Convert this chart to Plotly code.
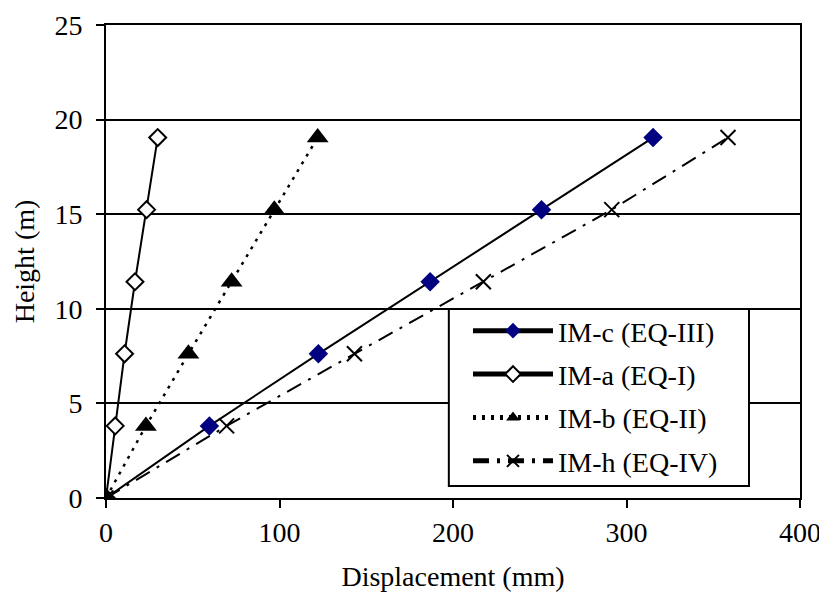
import plotly.graph_objects as go

heights = [0, 3.81, 7.62, 11.43, 15.24, 19.05]
im_c = [0, 59.6, 122.4, 186.8, 251.0, 315.3]
im_a = [0, 5.3, 10.7, 16.7, 23.4, 29.8]
im_b = [0, 23.0, 47.5, 72.4, 97.0, 122.0]
im_h = [0, 69.5, 143.2, 217.5, 291.5, 358.5]

names = ["IM-c (EQ-III)", "IM-a (EQ-I)", "IM-b (EQ-II)", "IM-h (EQ-IV)"]
x_ticks = [0, 100, 200, 300, 400]
y_ticks = [0, 5, 10, 15, 20, 25]

FONT = "Liberation Serif, Times New Roman, serif"

fig = go.Figure()
fig.add_trace(go.Scatter(
    x=im_c, y=heights, name=names[0], mode="lines+markers", legendgroup="c",
    line=dict(color="black", width=2),
    marker=dict(symbol="diamond", size=15, color="#000080", line=dict(width=0))))
fig.add_trace(go.Scatter(
    x=im_a, y=heights, name=names[1], mode="lines+markers", legendgroup="a",
    line=dict(color="black", width=2),
    marker=dict(symbol="diamond", size=13, color="white", line=dict(color="black", width=2))))
fig.add_trace(go.Scatter(
    x=im_b, y=heights, name=names[2], mode="lines+markers", legendgroup="b",
    line=dict(color="black", width=2.5, dash="3px,6px"),
    marker=dict(symbol="triangle-up", size=19, color="black")))
fig.add_trace(go.Scatter(
    x=im_h, y=heights, name=names[3], mode="lines+markers", legendgroup="h",
    line=dict(color="black", width=2, dash="16px,8px,3px,8px"),
    marker=dict(symbol="x-thin", size=15, color="black", line=dict(color="black", width=2))))

# legend frame (white box with black border over the plot)
fig.add_shape(type="rect", xref="x domain", yref="y domain",
              x0=0.494, x1=0.9265, y0=0.0254, y1=0.3996,
              fillcolor="white", line=dict(color="black", width=2), layer="above")

fig.update_layout(
    width=827, height=610,
    paper_bgcolor="white", plot_bgcolor="white",
    margin=dict(l=98, r=35, t=17, b=120),
    font=dict(family=FONT, size=28, color="black"),
    showlegend=True,
    legend=dict(
        x=0.5216, y=0.406, xanchor="left", yanchor="top",
        bgcolor="rgba(0,0,0,0)", borderwidth=0,
        font=dict(family=FONT, size=28, color="black"),
        tracegroupgap=4, itemsizing="constant", itemwidth=80,
    ),
    xaxis=dict(
        range=[0, 400], tickvals=x_ticks, ticktext=[str(v) for v in x_ticks],
        showgrid=False, zeroline=False, automargin=False, ticklabeloverflow="allow",
        showline=True, linecolor="black", linewidth=2, mirror=True,
        ticks="outside", ticklen=8, tickwidth=2, tickcolor="black",
        tickfont=dict(family=FONT, size=28),
        title=dict(text="Displacement (mm)", font=dict(family=FONT, size=28), standoff=20),
    ),
    yaxis=dict(
        range=[0, 25], tickvals=y_ticks, ticktext=[str(v) for v in y_ticks],
        showgrid=True, gridcolor="black", gridwidth=2, zeroline=False, automargin=False,
        ticklabeloverflow="allow",
        showline=True, linecolor="black", linewidth=2, mirror=True,
        ticks="outside", ticklen=8, tickwidth=2, tickcolor="black",
        tickfont=dict(family=FONT, size=28), ticklabelstandoff=8,
        title=dict(text="Height (m)", font=dict(family=FONT, size=28), standoff=12),
    ),
)

fig.write_html("out.html")
